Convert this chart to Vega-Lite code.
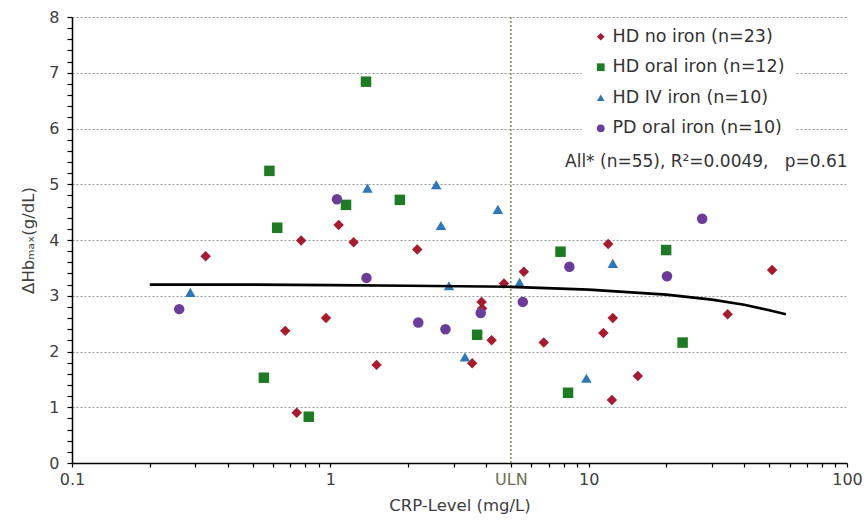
{
  "$schema": "https://vega.github.io/schema/vega-lite/v6.json",
  "autosize": "none",
  "width": 775,
  "height": 446,
  "padding": {"left": 72, "top": 17, "right": 17, "bottom": 61},
  "background": "white",
  "config": {
    "view": {"stroke": null},
    "font": "DejaVu Sans",
    "axis": {"labelFont": "DejaVu Sans", "titleFont": "DejaVu Sans", "labelColor": "#404040", "titleColor": "#404040", "titleFontWeight": "normal", "labelFontSize": 16, "titleFontSize": 16.5, "domainColor": "black", "domainWidth": 1.5, "tickColor": "black", "tickWidth": 1.2, "gridColor": "#9a9a9a", "gridDash": [2, 2], "gridWidth": 1.2}
  },
  "datasets": {
    "points": [
      {"crp": 0.329, "hb": 3.71, "group": "HD no iron (n=23)"},
      {"crp": 0.771, "hb": 3.99, "group": "HD no iron (n=23)"},
      {"crp": 1.077, "hb": 4.27, "group": "HD no iron (n=23)"},
      {"crp": 1.23, "hb": 3.96, "group": "HD no iron (n=23)"},
      {"crp": 2.17, "hb": 3.83, "group": "HD no iron (n=23)"},
      {"crp": 0.669, "hb": 2.37, "group": "HD no iron (n=23)"},
      {"crp": 0.962, "hb": 2.6, "group": "HD no iron (n=23)"},
      {"crp": 0.741, "hb": 0.9, "group": "HD no iron (n=23)"},
      {"crp": 1.51, "hb": 1.76, "group": "HD no iron (n=23)"},
      {"crp": 3.54, "hb": 1.79, "group": "HD no iron (n=23)"},
      {"crp": 3.85, "hb": 2.89, "group": "HD no iron (n=23)"},
      {"crp": 3.87, "hb": 2.77, "group": "HD no iron (n=23)"},
      {"crp": 4.21, "hb": 2.2, "group": "HD no iron (n=23)"},
      {"crp": 4.7, "hb": 3.22, "group": "HD no iron (n=23)"},
      {"crp": 5.61, "hb": 3.43, "group": "HD no iron (n=23)"},
      {"crp": 11.9, "hb": 3.93, "group": "HD no iron (n=23)"},
      {"crp": 12.4, "hb": 2.6, "group": "HD no iron (n=23)"},
      {"crp": 11.4, "hb": 2.33, "group": "HD no iron (n=23)"},
      {"crp": 6.7, "hb": 2.16, "group": "HD no iron (n=23)"},
      {"crp": 15.5, "hb": 1.56, "group": "HD no iron (n=23)"},
      {"crp": 12.3, "hb": 1.13, "group": "HD no iron (n=23)"},
      {"crp": 34.5, "hb": 2.67, "group": "HD no iron (n=23)"},
      {"crp": 51.3, "hb": 3.46, "group": "HD no iron (n=23)"},
      {"crp": 1.374, "hb": 6.84, "group": "HD oral iron (n=12)"},
      {"crp": 0.581, "hb": 5.24, "group": "HD oral iron (n=12)"},
      {"crp": 1.15, "hb": 4.63, "group": "HD oral iron (n=12)"},
      {"crp": 1.858, "hb": 4.72, "group": "HD oral iron (n=12)"},
      {"crp": 0.623, "hb": 4.22, "group": "HD oral iron (n=12)"},
      {"crp": 3.7, "hb": 2.3, "group": "HD oral iron (n=12)"},
      {"crp": 0.553, "hb": 1.53, "group": "HD oral iron (n=12)"},
      {"crp": 0.825, "hb": 0.83, "group": "HD oral iron (n=12)"},
      {"crp": 7.78, "hb": 3.79, "group": "HD oral iron (n=12)"},
      {"crp": 19.95, "hb": 3.82, "group": "HD oral iron (n=12)"},
      {"crp": 23.1, "hb": 2.16, "group": "HD oral iron (n=12)"},
      {"crp": 8.32, "hb": 1.26, "group": "HD oral iron (n=12)"},
      {"crp": 1.393, "hb": 4.93, "group": "HD IV iron (n=10)"},
      {"crp": 2.57, "hb": 4.99, "group": "HD IV iron (n=10)"},
      {"crp": 2.68, "hb": 4.26, "group": "HD IV iron (n=10)"},
      {"crp": 0.287, "hb": 3.06, "group": "HD IV iron (n=10)"},
      {"crp": 2.88, "hb": 3.18, "group": "HD IV iron (n=10)"},
      {"crp": 5.4, "hb": 3.24, "group": "HD IV iron (n=10)"},
      {"crp": 3.32, "hb": 1.9, "group": "HD IV iron (n=10)"},
      {"crp": 4.45, "hb": 4.55, "group": "HD IV iron (n=10)"},
      {"crp": 12.4, "hb": 3.58, "group": "HD IV iron (n=10)"},
      {"crp": 9.8, "hb": 1.52, "group": "HD IV iron (n=10)"},
      {"crp": 1.061, "hb": 4.73, "group": "PD oral iron (n=10)"},
      {"crp": 1.38, "hb": 3.32, "group": "PD oral iron (n=10)"},
      {"crp": 0.26, "hb": 2.76, "group": "PD oral iron (n=10)"},
      {"crp": 2.19, "hb": 2.52, "group": "PD oral iron (n=10)"},
      {"crp": 2.79, "hb": 2.4, "group": "PD oral iron (n=10)"},
      {"crp": 3.82, "hb": 2.69, "group": "PD oral iron (n=10)"},
      {"crp": 5.56, "hb": 2.89, "group": "PD oral iron (n=10)"},
      {"crp": 27.5, "hb": 4.38, "group": "PD oral iron (n=10)"},
      {"crp": 8.42, "hb": 3.52, "group": "PD oral iron (n=10)"},
      {"crp": 20.1, "hb": 3.35, "group": "PD oral iron (n=10)"}
    ],
    "fit": [
      {"crp": 0.2, "hb": 3.2},
      {"crp": 0.5, "hb": 3.2},
      {"crp": 1, "hb": 3.19},
      {"crp": 2, "hb": 3.18},
      {"crp": 5, "hb": 3.16},
      {"crp": 10, "hb": 3.11},
      {"crp": 20, "hb": 3.02},
      {"crp": 30, "hb": 2.93},
      {"crp": 40, "hb": 2.84},
      {"crp": 50, "hb": 2.74},
      {"crp": 58, "hb": 2.67}
    ],
    "uln": [{"crp": 5}]
  },
  "layer": [
    {
      "data": {"name": "uln"},
      "mark": {"type": "rule", "color": "#86866a", "strokeDash": [2, 2], "strokeWidth": 1.5},
      "encoding": {
        "x": {"field": "crp", "type": "quantitative", "scale": {"type": "log", "domain": [0.1, 100]}}
      }
    },
    {
      "data": {"name": "points"},
      "mark": {"type": "point", "filled": true, "opacity": 1, "size": 110},
      "encoding": {
        "x": {
          "field": "crp", "type": "quantitative",
          "scale": {"type": "log", "domain": [0.1, 100]},
          "axis": {
            "title": "CRP-Level (mg/L)",
            "grid": false,
            "tickCount": 200,
            "values": [0.1, 0.2, 0.3, 0.4, 0.5, 0.6, 0.7, 0.8, 0.9, 1, 2, 3, 4, 5, 6, 7, 8, 9, 10, 20, 30, 40, 50, 60, 70, 80, 90, 100],
            "labelExpr": "datum.value == 5 ? 'ULN' : datum.value == 0.1 ? '0.1' : datum.value == 1 ? '1' : datum.value == 10 ? '10' : datum.value == 100 ? '100' : ''",
            "labelColor": {"condition": {"test": "datum.value == 5", "value": "#6e6e50"}, "value": "#404040"},
            "labelOverlap": false,
            "labelFlush": false,
            "labelPadding": 4,
            "tickSize": 4,
            "titlePadding": 10
          }
        },
        "y": {
          "field": "hb", "type": "quantitative",
          "scale": {"domain": [0, 8], "nice": false},
          "axis": {
            "title": "ΔHbₘₐₓ(g/dL)",
            "tickCount": 200,
            "values": [0, 0.2, 0.4, 0.6, 0.8, 1, 1.2, 1.4, 1.6, 1.8, 2, 2.2, 2.4, 2.6, 2.8, 3, 3.2, 3.4, 3.6, 3.8, 4, 4.2, 4.4, 4.6, 4.8, 5, 5.2, 5.4, 5.6, 5.8, 6, 6.2, 6.4, 6.6, 6.8, 7, 7.2, 7.4, 7.6, 7.8, 8],
            "labelExpr": "datum.value == round(datum.value) ? '' + datum.value : ''",
            "gridOpacity": {"condition": {"test": "datum.value == round(datum.value) && datum.value > 0", "value": 1}, "value": 0},
            "tickSize": 5,
            "labelPadding": 8,
            "labelOverlap": false,
            "titlePadding": 12
          }
        },
        "color": {
          "field": "group", "type": "nominal",
          "scale": {"domain": ["HD no iron (n=23)", "HD oral iron (n=12)", "HD IV iron (n=10)", "PD oral iron (n=10)"], "range": ["#a51c30", "#1f7a24", "#2e78b8", "#6a3d9a"]},
          "legend": {
            "title": null, "orient": "none", "legendX": 510, "legendY": 1,
            "fillColor": "white", "padding": 10,
            "labelFontSize": 17.5, "labelColor": "#333333", "labelFont": "DejaVu Sans", "labelLimit": 400,
            "symbolSize": 60, "rowPadding": 11.5, "labelOffset": 3
          }
        },
        "shape": {
          "field": "group", "type": "nominal",
          "scale": {"domain": ["HD no iron (n=23)", "HD oral iron (n=12)", "HD IV iron (n=10)", "PD oral iron (n=10)"], "range": ["diamond", "square", "triangle-up", "circle"]},
          "legend": null
        }
      }
    },
    {
      "data": {"name": "fit"},
      "mark": {"type": "line", "color": "black", "strokeWidth": 2.6},
      "encoding": {
        "x": {"field": "crp", "type": "quantitative"},
        "y": {"field": "hb", "type": "quantitative"}
      }
    },
    {
      "data": {"values": [{}]},
      "mark": {"type": "text", "align": "left", "baseline": "middle", "fontSize": 17, "color": "#333333", "font": "DejaVu Sans", "text": "All* (n=55), R²=0.0049,\u00a0\u00a0 p=0.61"},
      "encoding": {
        "x": {"datum": 8.1, "type": "quantitative"},
        "y": {"datum": 5.4, "type": "quantitative"}
      }
    }
  ]
}
